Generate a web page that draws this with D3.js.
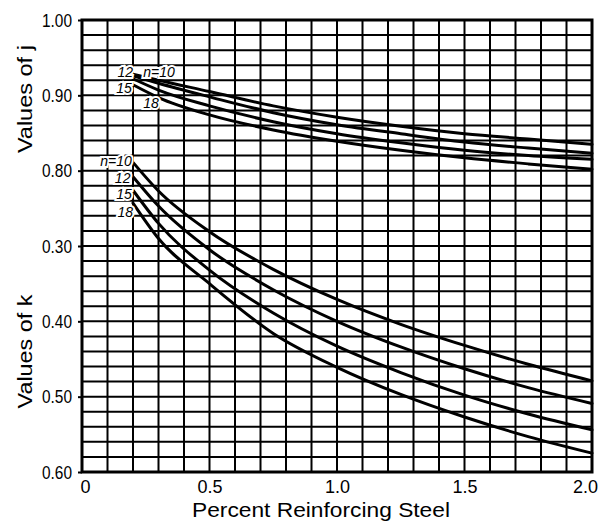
<!DOCTYPE html>
<html><head><meta charset="utf-8">
<script src="https://cdn.jsdelivr.net/npm/d3@7"></script>
<style>
body{margin:0;background:#fff;}
svg{display:block;}
text{font-family:"Liberation Sans",Arial,sans-serif;fill:#000;}
</style></head>
<body>
<svg id="chart" width="600" height="526"></svg>
<script>
// ---- data ----
const pct = [0.2, 0.3, 0.5, 0.75, 1.0, 1.25, 1.5, 1.75, 2.0];   // percent reinforcing steel
const nValues = [10, 12, 15, 18];
// values of j
const j10 = [0.928, 0.920, 0.905, 0.886, 0.871, 0.859, 0.849, 0.842, 0.835];
const j12 = [0.926, 0.916, 0.898, 0.877, 0.861, 0.849, 0.838, 0.830, 0.823];
const j15 = [0.922, 0.907, 0.886, 0.865, 0.849, 0.837, 0.827, 0.820, 0.815];
const j18 = [0.914, 0.897, 0.874, 0.854, 0.839, 0.827, 0.817, 0.809, 0.802];
// values of k
const k10 = [0.189, 0.227, 0.281, 0.331, 0.371, 0.404, 0.432, 0.457, 0.479];
const k12 = [0.208, 0.247, 0.305, 0.358, 0.400, 0.434, 0.463, 0.488, 0.509];
const k15 = [0.226, 0.270, 0.332, 0.389, 0.433, 0.468, 0.498, 0.523, 0.544];
const k18 = [0.243, 0.290, 0.350, 0.416, 0.461, 0.497, 0.527, 0.553, 0.575];
const xTicks = [0, 0.5, 1.0, 1.5, 2.0];
const xTickLabels = ["0", "0.5", "1.0", "1.5", "2.0"];
const jTicks = [1.00, 0.90, 0.80];
const jTickLabels = ["1.00", "0.90", "0.80"];
const kTicks = [0.30, 0.40, 0.50, 0.60];
const kTickLabels = ["0.30", "0.40", "0.50", "0.60"];

// ---- layout ----
const svg = d3.select("#chart");
const L = 82, R = 592, T = 20, B = 472;
const x = d3.scaleLinear().domain([0, 2.0]).range([L, R]);
const yj = d3.scaleLinear().domain([1.0, 0.4]).range([T, B]);   // j scale (down = smaller j)
const yk = d3.scaleLinear().domain([0.0, 0.6]).range([T, B]);   // k scale (down = larger k)

// grid
const g = svg.append("g");
const vx = d3.range(0, 21).map(i => i * 0.1);
g.selectAll("line.v").data(vx).join("line")
  .attr("x1", d => x(d)).attr("x2", d => x(d))
  .attr("y1", T).attr("y2", B)
  .attr("stroke", "#000").attr("stroke-width", 2);
const hy = d3.range(0, 31).map(i => i * 0.02);
g.selectAll("line.h").data(hy).join("line")
  .attr("x1", L).attr("x2", R)
  .attr("y1", d => yk(d)).attr("y2", d => yk(d))
  .attr("stroke", "#000").attr("stroke-width", 2);
g.append("rect").attr("x", L).attr("y", T).attr("width", R - L).attr("height", B - T)
  .attr("fill", "none").attr("stroke", "#000").attr("stroke-width", 3);

// left axes (j above, k below)
function styleY(sel) {
  sel.select(".domain").remove();
  sel.selectAll(".tick line").attr("stroke", "#000").attr("stroke-width", 2);
  sel.selectAll(".tick text").style("font-size", "19px")
    .attr("textLength", 30).attr("lengthAdjust", "spacingAndGlyphs").attr("x", -10);
}
svg.append("g").attr("transform", `translate(${L},0)`)
  .call(d3.axisLeft(yj).tickValues(jTicks).tickFormat((d, i) => jTickLabels[i]).tickSize(4))
  .call(styleY);
svg.append("g").attr("transform", `translate(${L},0)`)
  .call(d3.axisLeft(yk).tickValues(kTicks).tickFormat((d, i) => kTickLabels[i]).tickSize(4))
  .call(styleY);
// bottom axis
const xa = svg.append("g").attr("transform", `translate(0,${B})`)
  .call(d3.axisBottom(x).tickValues(xTicks).tickFormat((d, i) => xTickLabels[i]).tickSize(0));
xa.select(".domain").remove();
xa.selectAll(".tick text").style("font-size", "18px").attr("y", 21).attr("dy", 0)
  .attr("dx", (d, i) => i === 0 ? 3 : (i === xTicks.length - 1 ? -7 : 0));

// curves
const line = d3.line().curve(d3.curveMonotoneX);
const jSeries = [j10, j12, j15, j18];
const kSeries = [k10, k12, k15, k18];
const curves = svg.append("g").attr("fill", "none").attr("stroke", "#000").attr("stroke-width", 3)
  .attr("stroke-linecap", "round");
jSeries.forEach(s => curves.append("path").attr("d", line(pct.map((p, i) => [x(p), yj(s[i])]))));
kSeries.forEach(s => curves.append("path").attr("d", line(pct.map((p, i) => [x(p), yk(s[i])]))));

// curve labels
const lab = svg.append("g").style("font-style", "italic").style("font-size", "14px")
  .attr("stroke", "#fff").attr("stroke-width", 4).style("paint-order", "stroke");
const jLabels = [
  {t: "12", px: 0.20, v: 0.924, a: "end"},
  {t: "n=10", px: 0.24, v: 0.924, a: "start"},
  {t: "15", px: 0.195, v: 0.903, a: "end"},
  {t: "18", px: 0.24, v: 0.883, a: "start"}
];
jLabels.forEach(d => lab.append("text").attr("x", x(d.px)).attr("y", yj(d.v)).attr("text-anchor", d.a).text(d.t));
const kLabels = [
  {t: "n=10", px: 0.195, v: 0.194, a: "end"},
  {t: "12", px: 0.19, v: 0.216, a: "end"},
  {t: "15", px: 0.195, v: 0.238, a: "end"},
  {t: "18", px: 0.2, v: 0.261, a: "end"}
];
kLabels.forEach(d => lab.append("text").attr("x", x(d.px)).attr("y", yk(d.v)).attr("text-anchor", d.a).text(d.t));

// titles
svg.append("text").attr("transform", `translate(32,${yj(0.895)}) rotate(-90)`)
  .attr("text-anchor", "middle").style("font-size", "21px")
  .attr("textLength", 108).attr("lengthAdjust", "spacingAndGlyphs").text("Values of j");
svg.append("text").attr("transform", `translate(32,${yk(0.44)}) rotate(-90)`)
  .attr("text-anchor", "middle").style("font-size", "21px")
  .attr("textLength", 114).attr("lengthAdjust", "spacingAndGlyphs").text("Values of k");
svg.append("text").attr("x", 192).attr("y", 517)
  .attr("text-anchor", "start").style("font-size", "21px")
  .attr("textLength", 258).attr("lengthAdjust", "spacingAndGlyphs").text("Percent Reinforcing Steel");
</script>
</body></html>
